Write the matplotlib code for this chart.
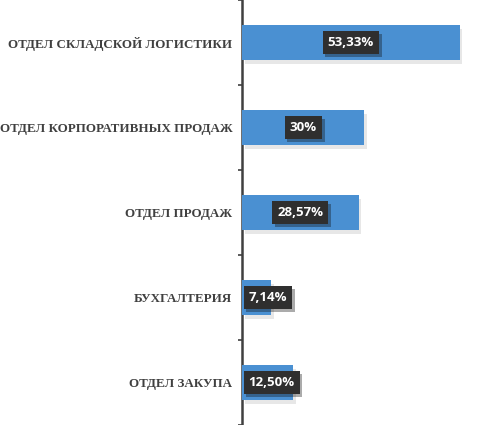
import matplotlib.pyplot as plt
import matplotlib.patheffects as pe
import numpy as np

departments = ['ОТДЕЛ СКЛАДСКОЙ ЛОГИСТИКИ', 'ОТДЕЛ КОРПОРАТИВНЫХ ПРОДАЖ',
               'ОТДЕЛ ПРОДАЖ', 'БУХГАЛТЕРИЯ', 'ОТДЕЛ ЗАКУПА']
shares = [53.33, 30.0, 28.57, 7.14, 12.50]
share_labels = ['53,33%', '30%', '28,57%', '7,14%', '12,50%']

bar_colour = '#4A90D2'
axis_colour = '#404040'

fig = plt.figure(figsize=(4.82, 4.25), dpi=100)
ax = fig.add_axes([242 / 482, 0, 240 / 482, 1])

y = np.arange(len(departments))
bars = ax.barh(y, shares, height=0.41, color=bar_colour, zorder=3)
for b in bars:
    b.set_path_effects([pe.SimplePatchShadow(offset=(2, -3), shadow_rgbFace='#a0a0a0', alpha=0.25),
                        pe.Normal()])

ax.set_xlim(0, 58.8)
ax.set_ylim(len(departments) - 0.5, -0.5)

### value boxes
for yi, v, lab in zip(y, shares, share_labels):
    if v < 20:
        x, ha = 1.6, 'left'
    else:
        x, ha = v / 2, 'center'
    ax.text(x, yi, lab, ha=ha, va='center', color='white', fontsize=9.5,
            fontweight='bold', family='Open Sans', zorder=5,
            bbox=dict(boxstyle='square,pad=0.38', fc='#2F2F2F', ec='none',
                      path_effects=[pe.SimplePatchShadow(offset=(2, -2), alpha=0.35), pe.Normal()]))

### axis styling
for s in ['top', 'right', 'bottom']:
    ax.spines[s].set_visible(False)
ax.spines['left'].set_color(axis_colour)
ax.spines['left'].set_linewidth(1.8)
ax.set_xticks([])
ax.set_yticks(y)
ax.set_yticklabels(departments, family='Liberation Serif', fontweight='bold',
                   fontsize=9.4, color='#404040')
ax.tick_params(axis='y', which='major', length=0, pad=7)
ax.set_yticks(np.arange(-0.5, len(departments)), minor=True)
ax.tick_params(axis='y', which='minor', length=3, width=1.2, color=axis_colour, direction='out')

fig.savefig('out.png', dpi=100)
